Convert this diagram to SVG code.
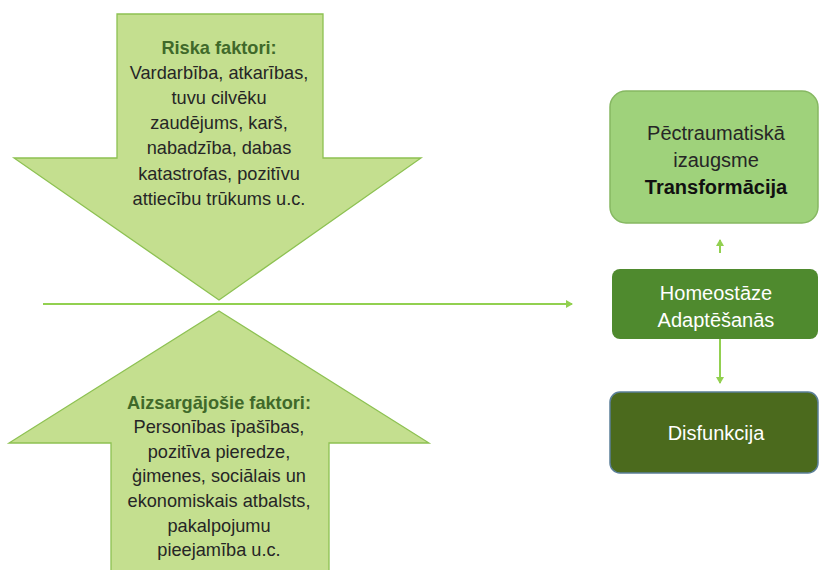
<svg xmlns="http://www.w3.org/2000/svg" width="820" height="570" viewBox="0 0 820 570">
<style>
.arr{fill:#c4df8f;stroke:#8dc152;stroke-width:1.3}
.t{font-family:"Liberation Sans",Arial,sans-serif;font-size:18.2px;fill:#262626;text-anchor:middle}
.b{font-size:20px}
.h{font-weight:bold;fill:#40692a}
.w{fill:#ffffff}
.line{stroke:#92d050;stroke-width:2;fill:none}
</style>
<defs>
<marker id="ah" markerWidth="8" markerHeight="8" refX="6" refY="4" orient="auto" markerUnits="userSpaceOnUse">
<path d="M0,0 L7,4 L0,8 Z" fill="#92d050"/>
</marker>
</defs>
<rect width="820" height="570" fill="#ffffff"/>
<g id="risk">
<path class="arr" d="M117,14 L323,14 L323,158 L421,158 L219,300 L14,158 L117,158 Z"/>
<text class="t"><tspan class="h" x="219" y="54">Riska faktori:</tspan><tspan x="219" y="79">Vardarbība, atkarības,</tspan><tspan x="219" y="104">tuvu cilvēku</tspan><tspan x="219" y="129">zaudējums, karš,</tspan><tspan x="219" y="154">nabadzība, dabas</tspan><tspan x="219" y="180">katastrofas, pozitīvu</tspan><tspan x="219" y="205">attiecību trūkums u.c.</tspan></text>
</g>
<g id="protect">
<path class="arr" d="M219,311 L429,443 L329,443 L329,572 L111,572 L111,443 L9,443 Z"/>
<text class="t"><tspan class="h" x="219" y="409">Aizsargājošie faktori:</tspan><tspan x="219" y="433">Personības īpašības,</tspan><tspan x="219" y="458">pozitīva pieredze,</tspan><tspan x="219" y="482">ģimenes, sociālais un</tspan><tspan x="219" y="507">ekonomiskais atbalsts,</tspan><tspan x="219" y="532">pakalpojumu</tspan><tspan x="219" y="556">pieejamība u.c.</tspan></text>
</g>
<g id="growth">
<rect x="610" y="91" width="208" height="132" rx="16" fill="#9fd27b" stroke="#86b862" stroke-width="1.5"/>
<text class="t b"><tspan x="716" y="140">Pēctraumatiskā</tspan><tspan x="716" y="167">izaugsme</tspan><tspan x="716" y="194" font-weight="bold" fill="#111">Transformācija</tspan></text>
</g>
<g id="homeo">
<rect x="612" y="269" width="206" height="70" rx="8" fill="#4f8a2e"/>
<text class="t b w"><tspan x="716" y="300">Homeostāze</tspan><tspan x="716" y="327">Adaptēšanās</tspan></text>
</g>
<g id="dysf">
<rect x="610" y="392" width="208" height="81" rx="10" fill="#4b6a1d" stroke="#5b7f98" stroke-width="1.5"/>
<text class="t b w" x="716" y="440">Disfunkcija</text>
</g>
<g id="connectors">
<line class="line" x1="43" y1="304" x2="572" y2="304" marker-end="url(#ah)"/>
<line class="line" x1="720" y1="253" x2="720" y2="240" marker-end="url(#ah)"/>
<line class="line" x1="720" y1="339" x2="720" y2="383" marker-end="url(#ah)"/>
</g>
</svg>
